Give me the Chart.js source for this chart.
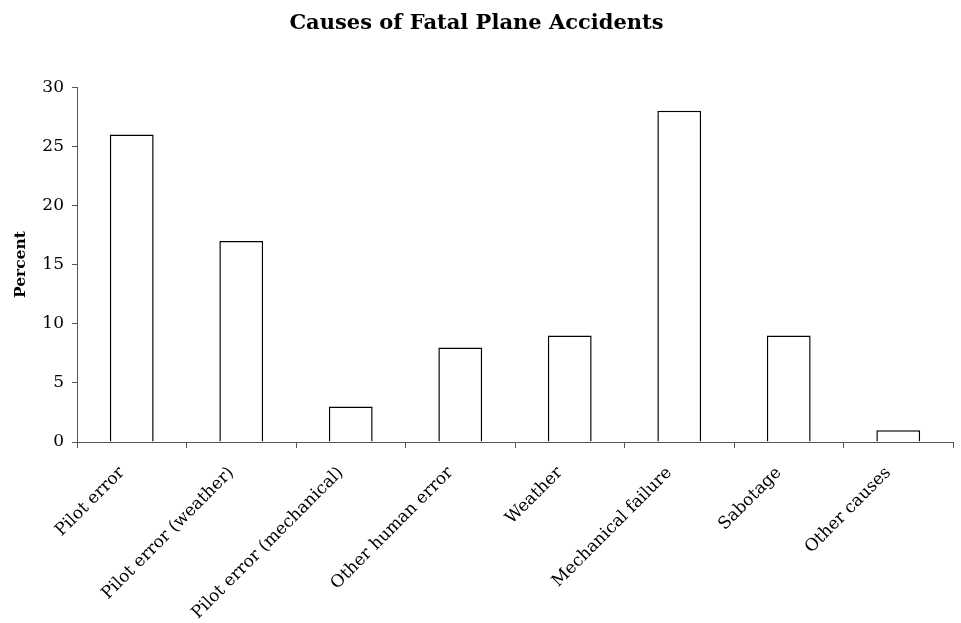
<!DOCTYPE html>
<html>
<head>
<meta charset="utf-8">
<script src="https://cdn.jsdelivr.net/npm/chart.js@4/dist/chart.umd.min.js"></script>
<style>
  html, body { margin: 0; padding: 0; background: #fff; }
  #wrap { width: 961px; height: 623px; }
</style>
</head>
<body>
<div id="wrap"><canvas id="chart" width="961" height="623"></canvas></div>
<script>
const categories = ["Pilot error", "Pilot error (weather)", "Pilot error (mechanical)", "Other human error",
  "Weather", "Mechanical failure", "Sabotage", "Other causes"];
const percents = [26, 17, 3, 8, 9, 28, 9, 1];
const yTicks = [0, 5, 10, 15, 20, 25, 30];

const serif = "'DejaVu Serif', 'Liberation Serif', serif";

new Chart(document.getElementById("chart"), {
  type: "bar",
  data: {
    labels: categories,
    datasets: [{
      data: percents,
      backgroundColor: "#fff",
      borderColor: "#000",
      borderWidth: 1.5,
      barPercentage: 0.4,
      categoryPercentage: 1
    }]
  },
  options: {
    responsive: false,
    animation: false,
    layout: { padding: { left: 0, right: 8, top: 0, bottom: 0 } },
    plugins: {
      legend: { display: false },
      tooltip: { enabled: false },
      title: {
        display: true,
        text: "Causes of Fatal Plane Accidents",
        color: "#000",
        font: { family: serif, size: 21, weight: "bold" },
        padding: { top: 11, bottom: 51 }
      }
    },
    scales: {
      x: {
        offset: true,
        grid: { offset: true, drawOnChartArea: false, drawTicks: true, tickLength: 6, color: "#555" },
        border: { color: "#555", width: 1 },
        ticks: {
          color: "#000",
          font: { family: serif, size: 17 },
          maxRotation: 45,
          minRotation: 45,
          padding: 15,
          labelOffset: -10
        },
        afterFit(scale) { scale.height = 181; }
      },
      y: {
        min: 0,
        max: 30,
        afterBuildTicks(scale) { scale.ticks = yTicks.map((v) => ({ value: v })); },
        grid: { drawOnChartArea: false, drawTicks: true, tickLength: 5, color: "#555" },
        border: { color: "#555", width: 1 },
        ticks: {
          color: "#000",
          font: { family: serif, size: 17 },
          padding: 8
        },
        title: {
          display: true,
          text: "Percent",
          color: "#000",
          font: { family: serif, size: 15.5, weight: "bold" },
          padding: { top: 12, bottom: 0 }
        },
        afterFit(scale) { scale.width = 77; }
      }
    }
  }
});
</script>
</body>
</html>
